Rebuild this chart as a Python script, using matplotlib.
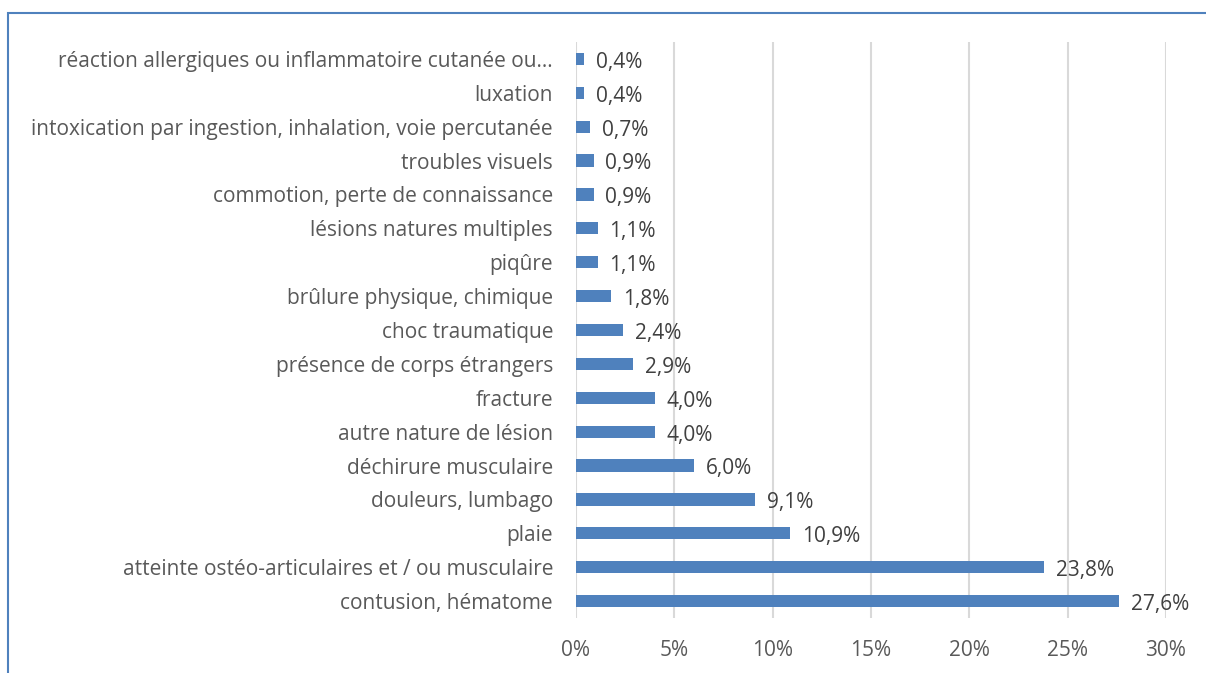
import matplotlib.pyplot as plt
from matplotlib.patches import Rectangle

# categories from bottom to top
categories = ['contusion, hématome',
              'atteinte ostéo-articulaires et / ou musculaire',
              'plaie',
              'douleurs, lumbago',
              'déchirure musculaire',
              'autre nature de lésion',
              'fracture',
              'présence de corps étrangers',
              'choc traumatique',
              'brûlure physique, chimique',
              'piqûre',
              'lésions natures multiples',
              'commotion, perte de connaissance',
              'troubles visuels',
              'intoxication par ingestion, inhalation, voie percutanée',
              'luxation',
              'réaction allergiques ou inflammatoire cutanée ou…']
values = [27.6, 23.8, 10.9, 9.1, 6.0, 4.0, 4.0, 2.9, 2.4, 1.8, 1.1, 1.1, 0.9, 0.9, 0.7, 0.4, 0.4]
ticks = [0, 5, 10, 15, 20, 25, 30]

plt.rcParams['font.family'] = ['Open Sans', 'DejaVu Sans']

fig = plt.figure(figsize=(12.06, 6.73), dpi=100)
ax = fig.add_axes([0.4776, 0.0817, 0.4892, 0.8559])

y = list(range(len(categories)))
ax.barh(y, values, height=0.36, color='#4F81BD', zorder=3)

for yi, v in zip(y, values):
    ax.text(v + 0.6, yi - 0.1, ('%.1f%%' % v).replace('.', ','), va='center', ha='left',
            fontsize=15, color='#404040')

ax.set_xlim(0, 30)
ax.set_ylim(-0.5, len(categories) - 0.5)
ax.set_xticks(ticks)
ax.set_xticklabels(['%d%%' % t for t in ticks], fontsize=15, color='#595959')
ax.set_yticks(y)
ax.set_yticklabels(categories, fontsize=15, color='#595959')
ax.tick_params(length=0)
ax.tick_params(axis='x', pad=16)
ax.tick_params(axis='y', pad=16.5)
ax.grid(axis='x', color='#D9D9D9', linewidth=1.5, zorder=0)
for s in ax.spines.values():
    s.set_visible(False)

# chart border (top and left visible in the crop)
fig.add_artist(Rectangle((8 / 1206, -0.1), 1.2, 1 - 13 / 673 + 0.1, transform=fig.transFigure,
                         fill=False, edgecolor='#4F81BD', linewidth=1.5))

plt.savefig('out.png', dpi=100)
